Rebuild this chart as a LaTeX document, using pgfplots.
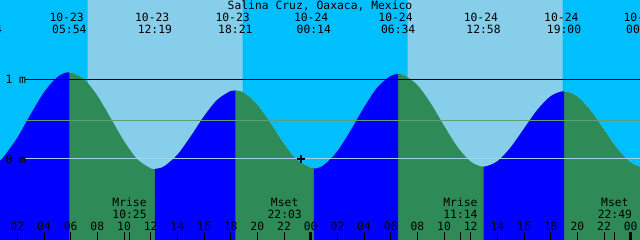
\documentclass[border=0pt]{standalone}
\usepackage{pgfplots}
\pgfplotsset{compat=1.18}
\usepgfplotslibrary{fillbetween}
\usepackage{fontspec}
\newfontfamily\xf{DejaVu Sans Mono}
\definecolor{nightsky}{HTML}{00BFFF}
\definecolor{daysky}{HTML}{87CEEB}
\definecolor{risec}{HTML}{0000FF}
\definecolor{fallc}{HTML}{2E8B57}
\definecolor{zeroc}{HTML}{A0D4E8}
\definecolor{mslc}{HTML}{5E9E78}
\newcommand{\tf}{\xf\fontsize{11.4}{12}\selectfont}
\begin{document}
\begin{tikzpicture}
\begin{axis}[
  scale only axis, width=640bp, height=240bp,
  xmin=0.7, xmax=48.7, ymin=-1.0163, ymax=1.995,
  axis x line*=bottom, axis y line=none,
  x axis line style={draw=none},
  axis on top,
  tick align=inside,
  major tick length=8bp,
  xtick={2,4,...,48},
  xticklabels={02,04,06,08,10,12,14,16,18,20,22,00,02,04,06,08,10,12,14,16,18,20,22,00},
  xticklabel style={font=\tf, anchor=base, yshift=10bp, inner sep=0pt},
  xtick style={black, line width=1bp},
  extra x ticks={10.417,22.05,35.233,46.817},
  extra x tick labels={},
]
\coordinate (SW) at (rel axis cs:0,0);
\coordinate (NE) at (rel axis cs:1,1);
% tide curve (hours from 10-23 00:00, metres)
\addplot[draw=none, smooth, name path=tide] coordinates {
(0.7,-0.019) (1,0.032) (2,0.268) (3,0.561) (4,0.837) (5,1.028) (5.9,1.088)
(7,1.002) (8,0.794) (9,0.513) (10,0.225) (11,-0.003) (12,-0.118) (12.317,-0.125)
(13,-0.094) (14,0.052) (15,0.282) (16,0.535) (17,0.743) (18,0.852) (18.35,0.860)
(19,0.831) (20,0.683) (21,0.448) (22,0.192) (23,-0.014) (24.233,-0.116)
(25,-0.074) (26,0.097) (27,0.359) (28,0.648) (29,0.897) (30,1.043) (30.567,1.066)
(31,1.053) (32,0.928) (33,0.699) (34,0.419) (35,0.154) (36,-0.032) (36.967,-0.096)
(38,-0.029) (39,0.145) (40,0.381) (41,0.616) (42,0.787) (43,0.850)
(44,0.785) (45,0.609) (46,0.369) (47,0.130) (48,-0.042) (48.7,-0.096)};
\addplot[draw=none, name path=bot] coordinates {(0.7,-1.1) (48.7,-1.1)};
\addplot[draw=none, name path=top] coordinates {(0.7,2.1) (48.7,2.1)};
% sky
\addplot[fill=nightsky, draw=none] fill between[of=tide and top];
\addplot[fill=daysky, draw=none] fill between[of=tide and top, soft clip={domain=7.278:18.9}];
\addplot[fill=daysky, draw=none] fill between[of=tide and top, soft clip={domain=31.28:42.9}];
% water
\addplot[fill=fallc, draw=none] fill between[of=tide and bot];
\addplot[fill=risec, draw=none] fill between[of=tide and bot, soft clip={domain=0.7:5.9}];
\addplot[fill=risec, draw=none] fill between[of=tide and bot, soft clip={domain=12.317:18.35}];
\addplot[fill=risec, draw=none] fill between[of=tide and bot, soft clip={domain=24.233:30.567}];
\addplot[fill=risec, draw=none] fill between[of=tide and bot, soft clip={domain=36.967:43}];
% level lines
\addplot[black, line width=1bp] coordinates {(2.575,1) (48.7,1)};
\addplot[mslc, line width=1bp] coordinates {(2.575,0.4856) (48.7,0.4856)};
\addplot[zeroc, line width=1bp] coordinates {(2.575,0) (48.7,0)};
% current time mark
\addplot[black, only marks, mark=+, mark size=4bp, line width=1.5bp] coordinates {(23.275,0)};
% midnight ticks
\addplot[black, line width=2.5bp] coordinates {(24,-0.916) (24,-1.1)};
\addplot[black, line width=2.5bp] coordinates {(48,-0.916) (48,-1.1)};
% texts
\node[font=\tf, anchor=base] at (axis cs:24.7,1.882) {Salina Cruz, Oaxaca, Mexico};
\node[font=\tf, anchor=base west] at (axis cs:0.85,0.95) {1 m};
\node[font=\tf, anchor=base west] at (axis cs:0.85,-0.054) {0 m};
\node[font=\tf, anchor=base] at (axis cs:-0.433,1.577) {23:34};
\node[font=\tf, anchor=base] at (axis cs:5.7,1.731) {10-23};
\node[font=\tf, anchor=base] at (axis cs:5.9,1.577) {05:54};
\node[font=\tf, anchor=base] at (axis cs:12.117,1.731) {10-23};
\node[font=\tf, anchor=base] at (axis cs:12.317,1.577) {12:19};
\node[font=\tf, anchor=base] at (axis cs:18.15,1.731) {10-23};
\node[font=\tf, anchor=base] at (axis cs:18.35,1.577) {18:21};
\node[font=\tf, anchor=base] at (axis cs:24.033,1.731) {10-24};
\node[font=\tf, anchor=base] at (axis cs:24.233,1.577) {00:14};
\node[font=\tf, anchor=base] at (axis cs:30.367,1.731) {10-24};
\node[font=\tf, anchor=base] at (axis cs:30.567,1.577) {06:34};
\node[font=\tf, anchor=base] at (axis cs:36.767,1.731) {10-24};
\node[font=\tf, anchor=base] at (axis cs:36.967,1.577) {12:58};
\node[font=\tf, anchor=base] at (axis cs:42.8,1.731) {10-24};
\node[font=\tf, anchor=base] at (axis cs:43.0,1.577) {19:00};
\node[font=\tf, anchor=base] at (axis cs:48.75,1.731) {10-25};
\node[font=\tf, anchor=base] at (axis cs:48.95,1.577) {00:57};
\node[font=\tf, anchor=base] at (axis cs:10.417,-0.590) {Mrise};
\node[font=\tf, anchor=base] at (axis cs:10.417,-0.744) {10:25};
\node[font=\tf, anchor=base] at (axis cs:22.05,-0.590) {Mset};
\node[font=\tf, anchor=base] at (axis cs:22.05,-0.744) {22:03};
\node[font=\tf, anchor=base] at (axis cs:35.233,-0.590) {Mrise};
\node[font=\tf, anchor=base] at (axis cs:35.233,-0.744) {11:14};
\node[font=\tf, anchor=base] at (axis cs:46.817,-0.590) {Mset};
\node[font=\tf, anchor=base] at (axis cs:46.817,-0.744) {22:49};
\end{axis}
\pgfresetboundingbox
\path[use as bounding box] (SW) rectangle (NE);
\end{tikzpicture}
\end{document}
